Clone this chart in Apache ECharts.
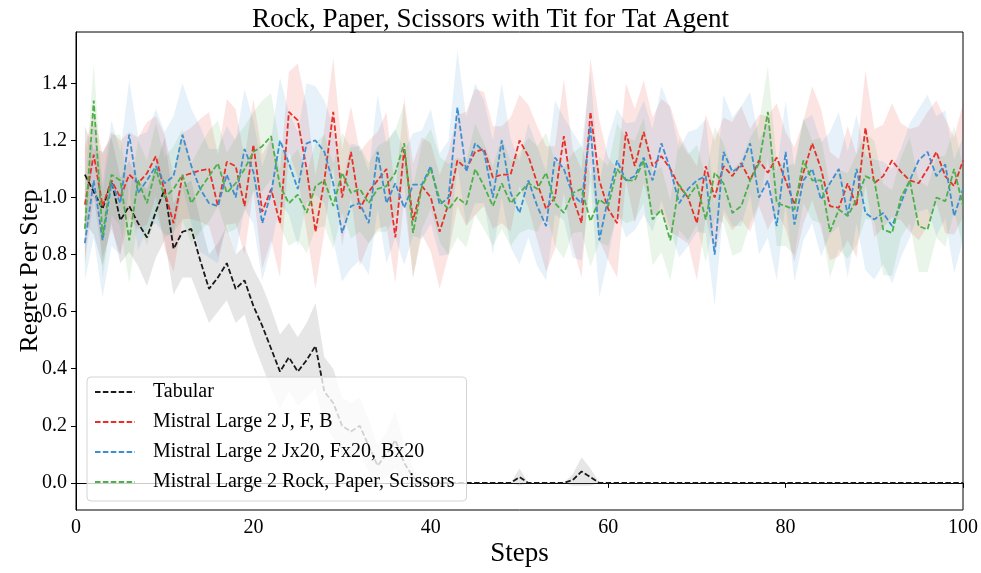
<!DOCTYPE html>
<html>
<head>
<meta charset="utf-8">
<script src="https://cdn.jsdelivr.net/npm/echarts@6/dist/echarts.min.js"></script>
<style>html,body{margin:0;padding:0;background:#fff;}#chart{width:981px;height:573px;}</style>
</head>
<body>
<div id="chart"></div>
<script>
const steps = [1,2,3,4,5,6,7,8,9,10,11,12,13,14,15,16,17,18,19,20,21,22,23,24,25,26,27,28,29,30,31,32,33,34,35,36,37,38,39,40,41,42,43,44,45,46,47,48,49,50,51,52,53,54,55,56,57,58,59,60,61,62,63,64,65,66,67,68,69,70,71,72,73,74,75,76,77,78,79,80,81,82,83,84,85,86,87,88,89,90,91,92,93,94,95,96,97,98,99,100];
const yTicks = [0.0,0.2,0.4,0.6,0.8,1.0,1.2,1.4];
const seriesNames = ['Tabular','Mistral Large 2 J, F, B','Mistral Large 2 Jx20, Fx20, Bx20','Mistral Large 2 Rock, Paper, Scissors'];

const tabular = [1.08,1.02,0.96,1.06,0.92,0.97,0.91,0.86,0.95,1.03,0.82,0.88,0.89,0.78,0.68,0.72,0.77,0.68,0.71,0.62,0.55,0.47,0.39,0.44,0.39,0.43,0.48,0.32,0.28,0.2,0.18,0.2,0.13,0.06,0.1,0.15,0.07,0.02,0,0,0,0,0,0,0,0,0,0,0,0.02,0,0,0,0,0,0.01,0.04,0.02,0,0,0,0,0,0,0,0,0,0,0,0,0,0,0,0,0,0,0,0,0,0,0,0,0,0,0,0,0,0,0,0,0,0,0,0,0,0,0,0,0,0];
const tabularSpread = [0.17,0.15,0.2,0.15,0.15,0.16,0.15,0.17,0.16,0.18,0.16,0.16,0.17,0.14,0.12,0.12,0.13,0.12,0.12,0.13,0.14,0.14,0.13,0.12,0.12,0.13,0.15,0.12,0.12,0.1,0.1,0.1,0.09,0.07,0.08,0.1,0.07,0.03,0.01,0,0,0,0,0,0,0,0,0,0,0.03,0,0,0,0,0,0.02,0.05,0.03,0,0,0,0,0,0,0,0,0,0,0,0,0,0,0,0,0,0,0,0,0,0,0,0,0,0,0,0,0,0,0,0,0,0,0,0,0,0,0,0,0,0];

const mistralJFB = [0.975,1.15,0.97,1.06,1.0,1.08,1.05,1.085,1.145,1.02,0.91,1.075,1.085,1.095,1.1,0.97,1.125,1.11,0.97,1.185,0.95,1.03,0.91,1.30,1.27,1.1,0.88,1.06,1.30,1.0,1.16,0.96,1.02,1.06,1.10,0.86,1.17,0.92,1.04,1.0,0.88,0.98,1.13,1.10,1.16,1.17,1.07,1.08,1.08,1.20,1.145,1.05,0.96,1.0,1.215,1.0,0.91,1.30,1.06,0.96,0.91,1.23,1.11,1.23,1.11,1.145,1.10,1.04,1.0,0.91,1.11,1.0,1.11,1.075,1.12,1.06,1.13,1.087,1.14,1.06,0.975,1.087,1.19,1.10,0.97,0.964,1.05,0.97,1.245,1.05,1.075,1.13,1.09,1.06,1.05,1.10,1.16,1.075,1.04,1.13];
const mistralJFBSpread = [0.2,0.15,0.18,0.17,0.2,0.15,0.16,0.18,0.14,0.2,0.17,0.15,0.16,0.18,0.2,0.18,0.22,0.2,0.17,0.16,0.2,0.18,0.19,0.14,0.2,0.22,0.2,0.18,0.19,0.17,0.16,0.2,0.18,0.17,0.2,0.16,0.18,0.2,0.17,0.19,0.2,0.18,0.16,0.2,0.22,0.2,0.18,0.17,0.2,0.16,0.18,0.2,0.22,0.18,0.2,0.17,0.19,0.19,0.21,0.18,0.19,0.17,0.2,0.18,0.17,0.2,0.22,0.18,0.16,0.2,0.18,0.2,0.17,0.19,0.2,0.18,0.16,0.2,0.19,0.17,0.2,0.18,0.2,0.21,0.19,0.17,0.2,0.18,0.2,0.19,0.18,0.2,0.17,0.18,0.2,0.2,0.18,0.2,0.17,0.2];

const mistralX20 = [0.84,1.06,0.85,1.05,0.98,1.22,1.016,1.06,1.11,1.05,1.075,1.22,1.11,1.03,0.98,0.97,1.08,1.0,1.17,1.09,0.91,1.016,1.20,1.12,1.03,1.19,1.20,1.16,1.05,0.876,0.97,0.98,0.91,1.16,0.98,1.05,0.964,1.045,1.045,1.11,0.975,1.0,1.315,1.09,1.19,1.16,1.0,1.20,1.016,0.946,1.06,0.97,0.90,1.14,1.10,1.01,0.98,1.25,0.85,1.0,1.13,1.06,1.075,1.14,1.06,1.19,1.10,0.98,1.03,1.06,1.075,0.80,1.16,1.09,1.11,1.19,1.0,1.06,0.90,1.16,0.905,1.06,1.10,0.993,1.05,1.10,0.94,1.10,0.946,0.923,0.946,0.90,0.98,1.06,1.13,1.16,1.075,1.116,0.935,1.03];
const mistralX20Spread = [0.13,0.2,0.2,0.22,0.18,0.19,0.2,0.17,0.2,0.18,0.21,0.18,0.2,0.22,0.19,0.2,0.17,0.2,0.21,0.18,0.2,0.19,0.22,0.18,0.2,0.21,0.19,0.18,0.2,0.17,0.22,0.2,0.18,0.2,0.21,0.19,0.2,0.18,0.19,0.2,0.18,0.2,0.2,0.19,0.21,0.18,0.2,0.2,0.19,0.18,0.2,0.21,0.19,0.2,0.18,0.22,0.2,0.19,0.2,0.21,0.18,0.2,0.19,0.2,0.18,0.2,0.21,0.19,0.2,0.18,0.2,0.18,0.2,0.19,0.21,0.18,0.2,0.2,0.19,0.18,0.2,0.21,0.19,0.2,0.18,0.2,0.22,0.19,0.2,0.21,0.18,0.2,0.19,0.2,0.18,0.2,0.21,0.19,0.2,0.18];

const mistralRPS = [0.89,1.34,0.865,1.08,1.06,0.85,1.06,0.98,1.10,1.0,1.03,1.08,0.98,1.03,1.075,1.12,1.016,1.05,1.10,1.16,1.18,1.215,1.04,0.98,1.01,0.946,1.04,1.06,0.97,1.087,1.016,1.03,0.98,1.03,1.04,1.087,1.19,0.876,1.04,1.10,0.993,0.958,1.0,0.975,1.10,1.04,0.97,1.05,0.98,1.016,1.05,1.03,1.087,0.98,0.946,1.016,1.03,0.917,0.993,0.97,1.10,1.06,1.06,1.13,0.923,0.958,0.85,1.045,1.0,1.045,0.923,1.087,1.05,0.946,0.97,1.06,1.12,1.30,0.98,0.97,0.958,1.13,1.06,1.06,0.88,0.958,0.935,0.993,1.075,1.06,0.888,0.876,1.0,1.06,0.90,0.888,1.0,0.987,1.10,0.97];
const mistralRPSSpread = [0.14,0.13,0.15,0.14,0.16,0.15,0.14,0.15,0.16,0.14,0.15,0.16,0.14,0.15,0.16,0.15,0.14,0.16,0.15,0.14,0.16,0.15,0.14,0.15,0.16,0.14,0.15,0.16,0.15,0.14,0.16,0.15,0.14,0.15,0.16,0.15,0.14,0.16,0.15,0.14,0.15,0.16,0.14,0.15,0.16,0.15,0.14,0.16,0.15,0.14,0.16,0.15,0.14,0.15,0.16,0.14,0.15,0.16,0.15,0.14,0.16,0.15,0.14,0.15,0.16,0.15,0.14,0.16,0.15,0.14,0.15,0.16,0.14,0.15,0.16,0.15,0.14,0.16,0.15,0.14,0.16,0.15,0.14,0.15,0.16,0.14,0.15,0.16,0.15,0.14,0.16,0.15,0.14,0.15,0.16,0.15,0.14,0.16,0.15,0.14];

const colors = ['#1a1a1a','#e8302a','#3d8fd1','#4db04a'];
const bandColors = ['rgba(128,128,128,0.2)','rgba(232,48,42,0.13)','rgba(61,143,209,0.13)','rgba(77,176,74,0.12)'];
const means = [tabular, mistralJFB, mistralX20, mistralRPS];
const spreads = [tabularSpread, mistralJFBSpread, mistralX20Spread, mistralRPSSpread];

const FONT = 'Liberation Serif';
const series = [];
means.forEach((m, k) => {
  const sp = spreads[k];
  const rows = m.map((v, i) => [steps[i], v - sp[i], v + sp[i]]);
  series.push({
    type: 'custom', silent: true, z: 1,
    encode: { x: 0, y: [1, 2] },
    data: rows,
    renderItem: function (params, api) {
      if (params.dataIndex !== 0) return null;
      const pts = [];
      for (let i = 0; i < rows.length; i++) pts.push(api.coord([rows[i][0], rows[i][2]]));
      for (let i = rows.length - 1; i >= 0; i--) pts.push(api.coord([rows[i][0], rows[i][1]]));
      return { type: 'polygon', shape: { points: pts }, style: { fill: bandColors[k], stroke: null } };
    }
  });
});
means.forEach((m, k) => {
  series.push({
    name: seriesNames[k], type: 'line', z: 3, symbol: 'none',
    color: colors[k],
    itemStyle: { color: colors[k] },
    lineStyle: { color: colors[k], width: 1.8, type: [5.5, 2.4] },
    data: m.map((v, i) => [steps[i], v])
  });
});

const chart = echarts.init(document.getElementById('chart'));
chart.setOption({
  animation: false,
  backgroundColor: '#fff',
  title: {
    text: 'Rock, Paper, Scissors with Tit for Tat Agent',
    left: 'center', top: 1,
    textStyle: { fontFamily: FONT, fontSize: 27, fontWeight: 'normal', color: '#000' }
  },
  grid: { left: 76, right: 18, top: 32, bottom: 63, show: true, borderColor: '#000', borderWidth: 1,
    containLabel: false, outerBoundsMode: 'none' },
  legend: {
    data: seriesNames, orient: 'vertical', left: 87, top: 377,
    itemWidth: 40, itemHeight: 14, itemGap: 10,
    itemStyle: { opacity: 0 },
    padding: [5, 12, 9, 7],
    backgroundColor: 'rgba(255,255,255,0.8)', borderColor: '#d4d4d4', borderWidth: 1, borderRadius: 4,
    textStyle: { fontFamily: FONT, fontSize: 20, color: '#000', padding: [0, 0, 0, 13] }
  },
  xAxis: {
    type: 'value', min: 0, max: 100, interval: 20,
    name: 'Steps', nameLocation: 'middle', nameGap: 30, nameMoveOverlap: false,
    nameTextStyle: { fontFamily: FONT, fontSize: 27, color: '#000' },
    axisLine: { show: true, lineStyle: { color: '#000', width: 1 } },
    axisTick: { show: true, length: 5, lineStyle: { color: '#000' } },
    axisLabel: { fontFamily: FONT, fontSize: 20, color: '#000', margin: 8 },
    splitLine: { show: false }
  },
  yAxis: {
    type: 'value', min: -0.095, max: 1.58,
    name: 'Regret Per Step', nameLocation: 'middle', nameGap: 33, nameMoveOverlap: false,
    nameTextStyle: { fontFamily: FONT, fontSize: 26, color: '#000' },
    axisLine: { show: true, lineStyle: { color: '#000', width: 1 } },
    axisTick: { show: true, length: 5, lineStyle: { color: '#000' }, customValues: yTicks },
    axisLabel: { fontFamily: FONT, fontSize: 20, color: '#000', margin: 9, customValues: yTicks,
      formatter: v => v.toFixed(1) },
    splitLine: { show: false }
  },
  series: series
});
</script>
</body>
</html>
